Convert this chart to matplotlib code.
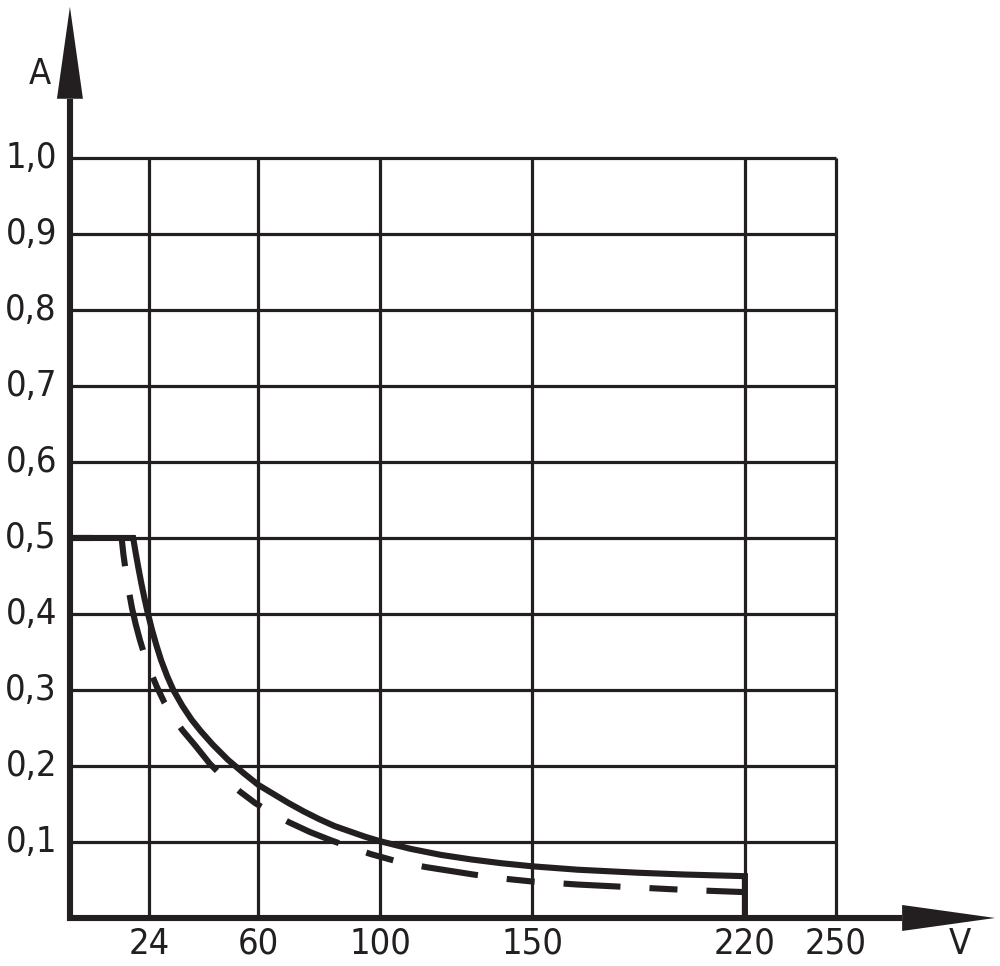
import matplotlib
matplotlib.use('Agg')
import matplotlib.pyplot as plt
from matplotlib.patches import Polygon

# ---------------- data ----------------
x_ticks = [24, 60, 100, 150, 220, 250]
x_tick_labels = ['24', '60', '100', '150', '220', '250']
y_ticks = [0.1, 0.2, 0.3, 0.4, 0.5, 0.6, 0.7, 0.8, 0.9, 1.0]
y_tick_labels = ['0,1', '0,2', '0,3', '0,4', '0,5', '0,6', '0,7', '0,8', '0,9', '1,0']
x_label = 'V'
y_label = 'A'

solid_v = [-2, 18.8, 19.6, 20.5, 21.5, 22.5, 23.5, 25, 26.5, 28, 30, 32, 35, 38,
           41, 45, 50, 55, 60, 65, 70, 75, 80, 85, 90, 95, 100, 110, 120, 130,
           140, 150, 165, 185, 200, 220, 220]
solid_a = [0.5, 0.5, 0.481, 0.461, 0.440, 0.421, 0.403, 0.379, 0.358, 0.339,
           0.318, 0.300, 0.279, 0.261, 0.246, 0.228, 0.208, 0.191, 0.175, 0.163,
           0.151, 0.140, 0.130, 0.121, 0.114, 0.107, 0.101, 0.091, 0.083, 0.077,
           0.072, 0.068, 0.0635, 0.0595, 0.0572, 0.055, 0.0]

dashed_v = [-2, 15, 15.6, 16.4, 17.3, 18.4, 19.6, 21, 22.6, 24.5, 26.6, 29, 32,
            35, 39, 44, 49, 54, 59, 64, 70, 77, 84, 91, 97, 106, 115, 123, 131,
            140, 150, 165, 185, 200, 220]
dashed_a = [0.5, 0.5, 0.478, 0.455, 0.432, 0.408, 0.387, 0.366, 0.345, 0.324,
            0.304, 0.284, 0.264, 0.247, 0.228, 0.203, 0.183, 0.166, 0.151, 0.139,
            0.126, 0.113, 0.102, 0.092, 0.084, 0.074, 0.067, 0.062, 0.057, 0.052,
            0.048, 0.044, 0.040, 0.037, 0.034]

# ---------------- style ----------------
INK = '#231f20'
plt.rcParams['lines.scale_dashes'] = False
FONT = ['DejaVu Sans']
FS = 26

fig = plt.figure(figsize=(10, 9.66), dpi=100)
ax = fig.add_axes([0, 0, 1, 1])
ax.set_xlim(-25.0, 303.9)
ax.set_ylim(-0.0632, 1.2079)
ax.axis('off')

PX_X = 1 / 3.04   # data units per pixel (x)
PX_Y = 1 / 760.0  # data units per pixel (y)

axis_x0 = -2.0
axis_y0 = 0.0
x_max = x_ticks[-1]
y_max = y_ticks[-1]

# grid
for yv in y_ticks:
    ax.plot([axis_x0, x_max], [yv, yv], color=INK, lw=2.3, solid_capstyle='butt', zorder=1)
for xv in x_ticks:
    ax.plot([xv, xv], [axis_y0, y_max], color=INK, lw=2.3, solid_capstyle='butt', zorder=1)

# curves
ax.plot(dashed_v, dashed_a, color=INK, lw=4.4,
        linestyle=(65.5, (20.2, 20.9, 41.0, 20.9)),
        dash_capstyle='butt', zorder=3)
ax.plot(solid_v, solid_a, color=INK, lw=4.4, solid_joinstyle='miter',
        solid_capstyle='butt', zorder=4)

# axes with arrows
head_len_x = 93 * PX_X
head_half_x = 13 * PX_Y
head_len_y = 92 * PX_Y
head_half_y = 13 * PX_X
x_tip = 302.3
y_tip = 1.199
ax.plot([axis_x0 - 3 * PX_X, x_tip - head_len_x], [axis_y0, axis_y0],
        color=INK, lw=4.4, solid_capstyle='butt', zorder=5)
ax.plot([axis_x0, axis_x0], [axis_y0 - 3 * PX_Y, y_tip - head_len_y],
        color=INK, lw=4.4, solid_capstyle='butt', zorder=5)
ax.add_patch(Polygon([[x_tip, axis_y0],
                      [x_tip - head_len_x, axis_y0 + head_half_x],
                      [x_tip - head_len_x, axis_y0 - head_half_x]],
                     closed=True, color=INK, lw=0, zorder=6))
ax.add_patch(Polygon([[axis_x0, y_tip],
                      [axis_x0 - head_half_y, y_tip - head_len_y],
                      [axis_x0 + head_half_y, y_tip - head_len_y]],
                     closed=True, color=INK, lw=0, zorder=6))

# tick labels
txt = dict(fontsize=FS, family=FONT, fontstretch='condensed', color=INK)
for yv, lab in zip(y_ticks, y_tick_labels):
    ax.text(axis_x0 - 13 * PX_X, yv, lab, ha='right', va='center', **txt)
for xv, lab in zip(x_ticks, x_tick_labels):
    ax.text(xv, axis_y0 - 26 * PX_Y, lab, ha='center', va='center', **txt)

ax.text((960 - 76) * PX_X, axis_y0 - 26 * PX_Y, x_label, ha='center', va='center', **txt)
ax.text((40 - 76) * PX_X, (918 - 74) * PX_Y, y_label, ha='center', va='center', **txt)

fig.savefig('out.png', dpi=100)
